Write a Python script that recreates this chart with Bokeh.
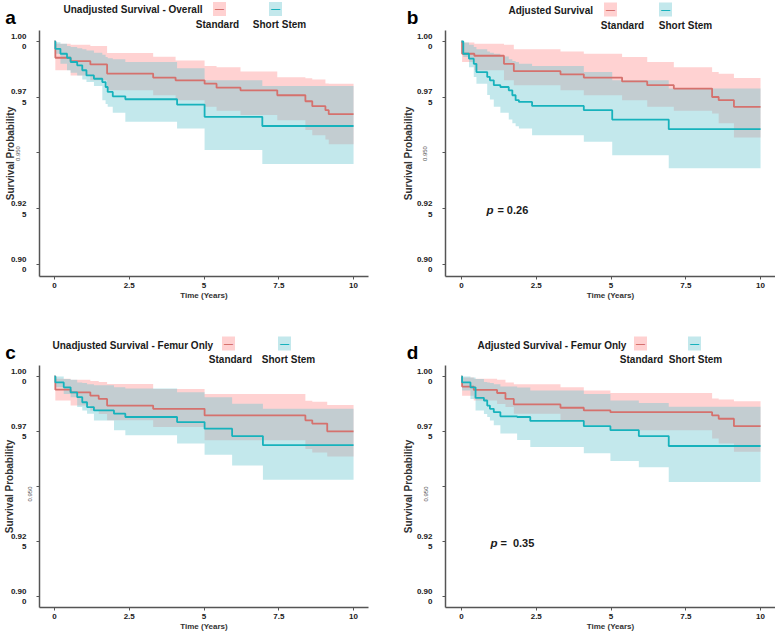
import math
from bokeh.plotting import figure
from bokeh.models import Label, FixedTicker, Range1d, LinearAxis
from bokeh.layouts import column, row
from bokeh.embed import file_html
from bokeh.resources import INLINE

# ---------------- data ----------------
x_ticks = [0, 2.5, 5, 7.5, 10]
x_tick_labels = ["0", "2.5", "5", "7.5", "10"]
y_ticks = [0.9, 0.925, 0.95, 0.975, 1.0]
y_tick_labels = ["0.90\n0", "0.92\n5", "", "0.97\n5", "1.00\n0"]
rotated_tick_text = "0.950"

group_names = ["Standard", "Short Stem"]
panel_letters = ["a", "b", "c", "d"]
panel_titles = ["Unadjusted Survival - Overall", "Adjusted Survival",
                "Unadjusted Survival - Femur Only", "Adjusted Survival - Femur Only"]
p_values = [None, "= 0.26", None, "=\u00a0 0.35"]

# Panel a - Standard
a_std_time = [0, 0.03, 0.54, 1.2, 1.76, 3.3, 4.05, 5.02, 5.42, 6.22, 7.45, 8.39, 8.62, 9.06, 9.17, 10]
a_std_surv = [1.0, 0.9927, 0.9912, 0.9897, 0.9856, 0.9838, 0.9826, 0.9811, 0.9793, 0.9781, 0.9759, 0.9732, 0.9710, 0.9692, 0.9674, 0.9674]
a_std_upper = [1.0, 0.9990, 0.9985, 0.9980, 0.9948, 0.9932, 0.9915, 0.9890, 0.9885, 0.9865, 0.9840, 0.9835, 0.9830, 0.9812, 0.9810, 0.9810]
a_std_lower = [1.0, 0.9871, 0.9848, 0.9826, 0.9781, 0.9759, 0.9737, 0.9707, 0.9690, 0.9670, 0.9647, 0.9603, 0.9580, 0.9560, 0.9539, 0.9539]
# Panel a - Short Stem
a_ss_time = [0, 0.03, 0.2, 0.42, 0.54, 0.76, 0.93, 1.07, 1.32, 1.6, 1.71, 1.78, 1.95, 2.37, 4.1, 5.02, 6.95, 10]
a_ss_surv = [1.0, 0.9967, 0.9945, 0.9927, 0.9908, 0.9893, 0.9871, 0.9848, 0.9833, 0.9818, 0.9796, 0.9774, 0.9754, 0.9741, 0.9717, 0.9662, 0.9621, 0.9621]
a_ss_upper = [1.0, 0.9997, 0.9990, 0.9980, 0.9975, 0.9970, 0.9965, 0.9960, 0.9950, 0.9940, 0.9930, 0.9925, 0.9920, 0.9908, 0.9880, 0.9826, 0.9800, 0.9800]
a_ss_lower = [1.0, 0.9945, 0.9900, 0.9871, 0.9860, 0.9848, 0.9830, 0.9818, 0.9800, 0.9737, 0.9720, 0.9707, 0.9680, 0.9640, 0.9610, 0.9513, 0.9451, 0.9451]

# Panel b - Standard
b_std_time = [0, 0.02, 0.43, 1.42, 1.75, 3.31, 4.09, 5.37, 6.21, 7.1, 8.38, 8.6, 9.11, 10]
b_std_surv = [1.0, 0.9945, 0.9936, 0.9900, 0.9867, 0.9853, 0.9838, 0.9821, 0.9804, 0.9789, 0.9751, 0.9737, 0.9707, 0.9707]
b_std_upper = [1.0, 0.9995, 0.9990, 0.9985, 0.9965, 0.9955, 0.9945, 0.9930, 0.9908, 0.9885, 0.9863, 0.9855, 0.9836, 0.9836]
b_std_lower = [1.0, 0.9908, 0.9871, 0.9826, 0.9804, 0.9781, 0.9759, 0.9737, 0.9707, 0.9690, 0.9677, 0.9633, 0.9570, 0.9570]
# Panel b - Short Stem
b_ss_time = [0, 0.06, 0.25, 0.41, 0.5, 0.86, 0.95, 1.08, 1.3, 1.58, 1.7, 1.81, 1.92, 2.36, 4.09, 5.04, 6.93, 10]
b_ss_surv = [1.0, 0.9945, 0.9923, 0.9900, 0.9863, 0.9841, 0.9826, 0.9804, 0.9796, 0.9781, 0.9759, 0.9737, 0.9729, 0.9711, 0.9692, 0.9650, 0.9607, 0.9607]
b_ss_upper = [1.0, 0.9995, 0.9985, 0.9975, 0.9965, 0.9955, 0.9950, 0.9945, 0.9933, 0.9920, 0.9912, 0.9908, 0.9900, 0.9890, 0.9863, 0.9826, 0.9789, 0.9789]
b_ss_lower = [1.0, 0.9930, 0.9885, 0.9841, 0.9810, 0.9760, 0.9740, 0.9707, 0.9680, 0.9650, 0.9633, 0.9620, 0.9610, 0.9580, 0.9550, 0.9490, 0.9432, 0.9432]

# Panel c - Standard
c_std_time = [0, 0.03, 0.54, 1.2, 1.48, 1.76, 3.3, 5.02, 8.39, 8.62, 9.12, 10]
c_std_surv = [1.0, 0.9940, 0.9928, 0.9913, 0.9898, 0.9868, 0.9853, 0.9823, 0.9801, 0.9786, 0.9751, 0.9751]
c_std_upper = [1.0, 0.9990, 0.9985, 0.9980, 0.9975, 0.9966, 0.9943, 0.9920, 0.9890, 0.9885, 0.9870, 0.9870]
c_std_lower = [1.0, 0.9891, 0.9868, 0.9846, 0.9830, 0.9801, 0.9770, 0.9710, 0.9670, 0.9655, 0.9636, 0.9636]
# Panel c - Short Stem
c_ss_time = [0, 0.03, 0.31, 0.54, 0.76, 0.93, 1.09, 1.32, 1.99, 2.37, 4.1, 5.02, 5.94, 6.97, 10]
c_ss_surv = [1.0, 0.9973, 0.9951, 0.9928, 0.9906, 0.9883, 0.9861, 0.9846, 0.9831, 0.9816, 0.9793, 0.9763, 0.9729, 0.9688, 0.9688]
c_ss_upper = [1.0, 1.0, 0.9989, 0.9985, 0.9973, 0.9970, 0.9965, 0.9960, 0.9951, 0.9945, 0.9928, 0.9906, 0.9876, 0.9853, 0.9853]
c_ss_lower = [1.0, 0.9951, 0.9920, 0.9906, 0.9861, 0.9845, 0.9831, 0.9800, 0.9756, 0.9733, 0.9696, 0.9644, 0.9595, 0.9531, 0.9531]

# Panel d - Standard
d_std_time = [0, 0.02, 0.41, 1.19, 1.47, 1.75, 3.31, 4.09, 4.98, 8.38, 8.6, 9.11, 10]
d_std_surv = [1.0, 0.9954, 0.9939, 0.9925, 0.9898, 0.9873, 0.9858, 0.9846, 0.9838, 0.9823, 0.9808, 0.9774, 0.9774]
d_std_upper = [1.0, 0.9995, 0.9990, 0.9985, 0.9973, 0.9965, 0.9951, 0.9936, 0.9925, 0.9900, 0.9895, 0.9888, 0.9888]
d_std_lower = [1.0, 0.9913, 0.9891, 0.9875, 0.9861, 0.9831, 0.9801, 0.9778, 0.9756, 0.9718, 0.9696, 0.9658, 0.9658]
# Panel d - Short Stem
d_ss_time = [0, 0.02, 0.3, 0.47, 0.75, 0.86, 0.95, 1.08, 1.3, 1.86, 2.3, 4.09, 4.98, 5.93, 6.93, 10]
d_ss_surv = [1.0, 0.9973, 0.9951, 0.9903, 0.9891, 0.9868, 0.9853, 0.9838, 0.9819, 0.9816, 0.9798, 0.9774, 0.9756, 0.9729, 0.9684, 0.9684]
d_ss_upper = [1.0, 1.0, 0.9995, 0.9989, 0.9975, 0.9973, 0.9970, 0.9965, 0.9955, 0.9950, 0.9936, 0.9921, 0.9891, 0.9880, 0.9863, 0.9863]
d_ss_lower = [1.0, 0.9936, 0.9898, 0.9846, 0.9830, 0.9816, 0.9800, 0.9778, 0.9741, 0.9711, 0.9680, 0.9651, 0.9616, 0.9587, 0.9521, 0.9521]

# ---------------- styles ----------------
FONT = "Liberation Sans"
STD_LINE = "#D5716D"
SS_LINE = "#17B2BC"
STD_FILL = "#FF8F8F"
SS_FILL = "#69C5CF"
FILL_ALPHA = 0.4
STD_SWATCH = "#FFD1D1"
SS_SWATCH = "#C3E8EC"
AXIS_COLOR = "#555555"
TEXT_COLOR = "#1a1a1a"

panel_data = [
    ((a_std_time, a_std_surv, a_std_lower, a_std_upper), (a_ss_time, a_ss_surv, a_ss_lower, a_ss_upper)),
    ((b_std_time, b_std_surv, b_std_lower, b_std_upper), (b_ss_time, b_ss_surv, b_ss_lower, b_ss_upper)),
    ((c_std_time, c_std_surv, c_std_lower, c_std_upper), (c_ss_time, c_ss_surv, c_ss_lower, c_ss_upper)),
    ((d_std_time, d_std_surv, d_std_lower, d_std_upper), (d_ss_time, d_ss_surv, d_ss_lower, d_ss_upper)),
]

# header layout, in header pixels (x from left edge of the panel, y from its top)
headers = [
    dict(w=392, h=30, letter=(10, 17), title=(63, 8.5), sw=(219, 275), swy=8.5, nm=(217, 279), nmy=24),
    dict(w=383, h=30, letter=(20, 17), title=(116, 10), sw=(218, 273), swy=9, nm=(230, 293), nmy=24.5),
    dict(w=392, h=55, letter=(10, 42), title=(52, 35), sw=(228, 284), swy=33, nm=(230, 288), nmy=48.5),
    dict(w=383, h=55, letter=(20, 42), title=(85, 35), sw=(248, 302), swy=33, nm=(249, 303), nmy=48.5),
]

mains = [
    dict(w=392, h=280, xr=(-0.5, 10.5), yr=(0.89462, 1.00493), bl=39, br=24, bb=34,
         rot_tick=0.9531, rot_standoff=-11, lab_standoff=-4, pval=None),
    dict(w=383, h=280, xr=(-0.535, 10.5), yr=(0.89462, 1.00493), bl=53, br=0, bb=34,
         rot_tick=0.9531, rot_standoff=-12, lab_standoff=5, pval=((0.84, 0.9243), (1.20, 0.9243))),
    dict(w=392, h=269, xr=(-0.5, 10.5), yr=(0.895, 1.005), bl=39, br=24, bb=27,
         rot_tick=0.950, rot_standoff=-22, lab_standoff=8, pval=None),
    dict(w=383, h=269, xr=(-0.535, 10.5), yr=(0.895, 1.005), bl=53, br=0, bb=27,
         rot_tick=0.950, rot_standoff=-12, lab_standoff=5, pval=((0.97, 0.9241), (1.30, 0.9241))),
]


def add_text(p, x, y, text, size, style="bold", align="left", baseline="middle",
             color=TEXT_COLOR, bg=None):
    lab = Label(x=x, y=y, text=text, text_font=FONT, text_font_size=f"{size}px",
                text_font_style=style, text_align=align, text_baseline=baseline,
                text_color=color)
    if bg is not None:
        lab.background_fill_color = bg
        lab.background_fill_alpha = 1.0
        lab.padding = 2
    p.add_layout(lab)


def make_header(i):
    H = headers[i]
    p = figure(width=H["w"], height=H["h"], x_range=Range1d(0, H["w"]),
               y_range=Range1d(H["h"], 0), output_backend="svg", toolbar_location=None,
               x_axis_location=None, y_axis_location=None, min_border=0)
    p.outline_line_color = None
    p.grid.visible = False
    add_text(p, H["letter"][0], H["letter"][1], panel_letters[i], 19,
             align="center", baseline="alphabetic", color="#000000")
    add_text(p, H["title"][0], H["title"][1], panel_titles[i], 10)
    add_text(p, H["sw"][0], H["swy"], "\u2014", 9, align="center", color=STD_LINE, bg=STD_SWATCH)
    add_text(p, H["sw"][1], H["swy"], "\u2014", 9, align="center", color=SS_LINE, bg=SS_SWATCH)
    add_text(p, H["nm"][0], H["nmy"], group_names[0], 10, align="center")
    add_text(p, H["nm"][1], H["nmy"], group_names[1], 10, align="center")
    return p


def style_axis(ax):
    ax.axis_line_color = AXIS_COLOR
    ax.axis_line_width = 1.5
    ax.major_tick_line_color = AXIS_COLOR
    ax.major_tick_out = 3
    ax.major_tick_in = 0
    ax.minor_tick_line_color = None
    ax.major_label_text_font = FONT
    ax.major_label_text_font_style = "bold"
    ax.major_label_text_font_size = "8px"
    ax.major_label_text_color = TEXT_COLOR
    ax.axis_label_text_font = FONT
    ax.axis_label_text_font_style = "bold"
    ax.axis_label_text_color = "#333333"
    ax.axis_label_standoff = 0
    ax.major_label_standoff = 3


def overrides(ticks, labels):
    o = {}
    for t, s in zip(ticks, labels):
        o[float(t)] = s
        o[str(t)] = s
    return o


def make_main(i):
    M = mains[i]
    std, ss = panel_data[i]
    p = figure(width=M["w"], height=M["h"], x_range=Range1d(*M["xr"]),
               y_range=Range1d(*M["yr"]), output_backend="svg",
               toolbar_location=None, min_border_left=M["bl"], min_border_right=M["br"],
               min_border_top=0, min_border_bottom=M["bb"])
    p.outline_line_color = None
    p.xgrid.visible = False
    p.ygrid.visible = False

    p.varea_step(x=std[0], y1=std[2], y2=std[3], step_mode="after",
                 fill_color=STD_FILL, fill_alpha=FILL_ALPHA)
    p.varea_step(x=ss[0], y1=ss[2], y2=ss[3], step_mode="after",
                 fill_color=SS_FILL, fill_alpha=FILL_ALPHA)
    p.step(x=std[0], y=std[1], mode="after", line_color=STD_LINE, line_width=1.8)
    p.step(x=ss[0], y=ss[1], mode="after", line_color=SS_LINE, line_width=1.8)

    style_axis(p.xaxis[0])
    style_axis(p.yaxis[0])
    p.xaxis.ticker = FixedTicker(ticks=x_ticks)
    p.xaxis.major_label_overrides = overrides(x_ticks, x_tick_labels)
    p.xaxis.axis_label = "Time (Years)"
    p.xaxis.axis_label_text_font_size = "8px"

    p.yaxis.ticker = FixedTicker(ticks=y_ticks)
    p.yaxis.major_label_overrides = overrides(y_ticks, y_tick_labels)
    p.yaxis.major_label_standoff = 10

    # outer left axis: rotated "0.950" tick text and the axis title
    ax2 = LinearAxis(ticker=FixedTicker(ticks=[M["rot_tick"]]),
                     major_label_overrides=overrides([M["rot_tick"]], [rotated_tick_text]))
    ax2.axis_line_color = None
    ax2.major_tick_line_color = None
    ax2.minor_tick_line_color = None
    ax2.major_tick_out = 0
    ax2.major_tick_in = 0
    ax2.major_label_orientation = math.pi / 2
    ax2.major_label_text_font = FONT
    ax2.major_label_text_font_size = "6px"
    ax2.major_label_text_color = "#555555"
    ax2.major_label_standoff = M["rot_standoff"]
    ax2.axis_label = "Survival Probability"
    ax2.axis_label_text_font = FONT
    ax2.axis_label_text_font_style = "bold"
    ax2.axis_label_text_font_size = "10px"
    ax2.axis_label_text_color = "#333333"
    ax2.axis_label_standoff = M["lab_standoff"]
    p.add_layout(ax2, "left")

    if M["pval"] is not None:
        add_text(p, M["pval"][0][0], M["pval"][0][1], "p", 11.5, style="bold italic")
        add_text(p, M["pval"][1][0], M["pval"][1][1], p_values[i], 11)
    return p


heads = [make_header(i) for i in range(4)]
mainfigs = [make_main(i) for i in range(4)]
page = column(row(heads[0], heads[1]), row(mainfigs[0], mainfigs[1]),
              row(heads[2], heads[3]), row(mainfigs[2], mainfigs[3]))

open("out.html", "w").write(file_html(page, INLINE))
